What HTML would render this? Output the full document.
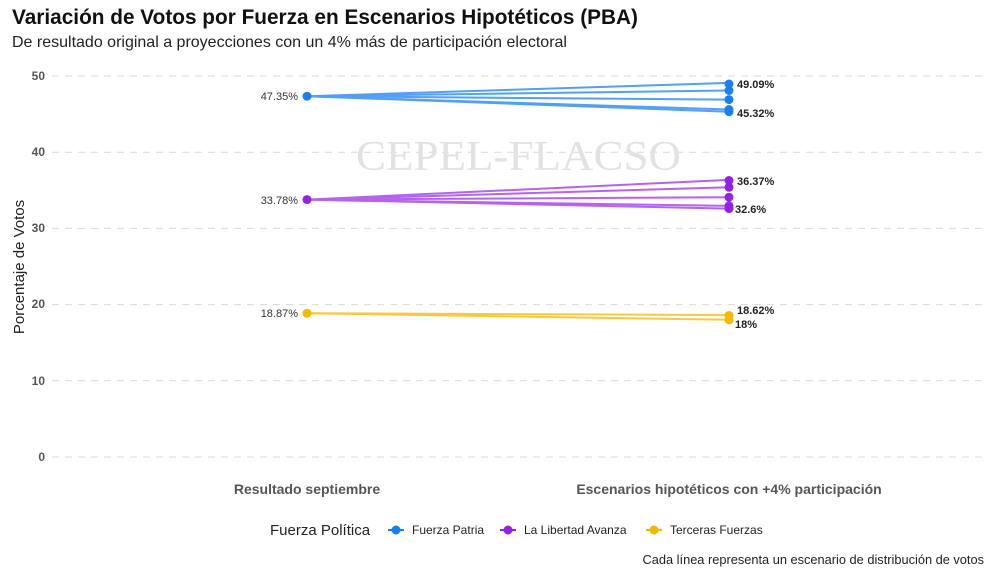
<!DOCTYPE html>
<html><head><meta charset="utf-8"><style>
body{margin:0;background:#fff}
svg text{font-family:"Liberation Sans",sans-serif}
</style></head><body>
<svg width="1000" height="575" viewBox="0 0 1000 575" xmlns="http://www.w3.org/2000/svg">
<rect width="1000" height="575" fill="#fff"/>
<text x="12" y="24" font-size="20.8" font-weight="bold" fill="#111">Variación de Votos por Fuerza en Escenarios Hipotéticos (PBA)</text>
<text x="12" y="47" font-size="16" fill="#222">De resultado original a proyecciones con un 4% más de participación electoral</text>
<g stroke="#d9d9d9" stroke-width="1" stroke-dasharray="7,6">
<line x1="52" x2="984" y1="76" y2="76"/>
<line x1="52" x2="984" y1="152.2" y2="152.2"/>
<line x1="52" x2="984" y1="228.4" y2="228.4"/>
<line x1="52" x2="984" y1="304.6" y2="304.6"/>
<line x1="52" x2="984" y1="380.8" y2="380.8"/>
<line x1="52" x2="984" y1="457" y2="457"/>
</g>
<text x="356" y="170" font-size="42" fill="#e2e2e2" textLength="325" lengthAdjust="spacingAndGlyphs" style="font-family:'Liberation Serif',serif">CEPEL-FLACSO</text>
<g font-size="12" font-weight="bold" fill="#555" text-anchor="end">
<text x="45" y="80">50</text><text x="45" y="156">40</text><text x="45" y="232">30</text><text x="45" y="308">20</text><text x="45" y="385">10</text><text x="45" y="461">0</text>
</g>
<text transform="translate(24,267) rotate(-90)" font-size="15" fill="#222" text-anchor="middle">Porcentaje de Votos</text>
<g stroke-width="2" opacity="0.75" fill="none">
<g stroke="#1a80f0">
<line x1="307" y1="96.2" x2="729" y2="82.9"/><line x1="307" y1="96.2" x2="729" y2="90.5"/><line x1="307" y1="96.2" x2="729" y2="99.6"/><line x1="307" y1="96.2" x2="729" y2="109.5"/><line x1="307" y1="96.2" x2="729" y2="111.7"/>
</g>
<g stroke="#9b30e8">
<line x1="307" y1="199.6" x2="729" y2="179.9"/><line x1="307" y1="199.6" x2="729" y2="187.3"/><line x1="307" y1="199.6" x2="729" y2="197.2"/><line x1="307" y1="199.6" x2="729" y2="205.9"/><line x1="307" y1="199.6" x2="729" y2="208.6"/>
</g>
<g stroke="#f5b800">
<line x1="307" y1="313.2" x2="729" y2="315.1"/><line x1="307" y1="313.2" x2="729" y2="319.8"/>
</g>
</g>
<g fill="#1a80f0"><circle cx="307" cy="96.2" r="4.5"/><circle cx="729" cy="84" r="4.5"/><circle cx="729" cy="90.5" r="4.5"/><circle cx="729" cy="99.6" r="4.5"/><circle cx="729" cy="109.5" r="4.5"/><circle cx="729" cy="111.7" r="4.5"/></g>
<g fill="#9323e0"><circle cx="307" cy="199.6" r="4.5"/><circle cx="729" cy="180.5" r="4.5"/><circle cx="729" cy="187.3" r="4.5"/><circle cx="729" cy="197.2" r="4.5"/><circle cx="729" cy="205.9" r="4.5"/><circle cx="729" cy="208.6" r="4.5"/></g>
<g fill="#f5b800"><circle cx="307" cy="313.2" r="4.5"/><circle cx="729" cy="315.5" r="4.5"/><circle cx="729" cy="319.8" r="4.5"/></g>
<g font-size="11" fill="#333" text-anchor="end">
<text x="298" y="100">47.35%</text><text x="298" y="204">33.78%</text><text x="298" y="317">18.87%</text>
</g>
<g font-size="11" font-weight="bold" fill="#222">
<text x="737" y="88">49.09%</text><text x="737" y="117">45.32%</text>
<text x="737" y="185">36.37%</text><text x="735" y="213">32.6%</text>
<text x="737" y="314">18.62%</text><text x="735" y="328">18%</text>
</g>
<g font-size="14" font-weight="bold" fill="#555" text-anchor="middle">
<text x="307" y="494">Resultado septiembre</text>
<text x="729" y="494">Escenarios hipotéticos con +4% participación</text>
</g>
<text x="270" y="535" font-size="15" fill="#222">Fuerza Política</text>
<g stroke-width="2">
<line x1="388" x2="404" y1="530" y2="530" stroke="#1a80f0"/><circle cx="396" cy="530" r="4.5" fill="#1a80f0"/>
<line x1="500" x2="516" y1="530" y2="530" stroke="#9323e0"/><circle cx="508" cy="530" r="4.5" fill="#9323e0"/>
<line x1="646" x2="662" y1="530" y2="530" stroke="#f5b800"/><circle cx="654" cy="530" r="4.5" fill="#f5b800"/>
</g>
<g font-size="12" fill="#222">
<text x="412" y="534">Fuerza Patria</text><text x="524" y="534">La Libertad Avanza</text><text x="670" y="534">Terceras Fuerzas</text>
</g>
<text x="984" y="564" font-size="12.8" fill="#222" text-anchor="end">Cada línea representa un escenario de distribución de votos</text>
</svg>
</body></html>
